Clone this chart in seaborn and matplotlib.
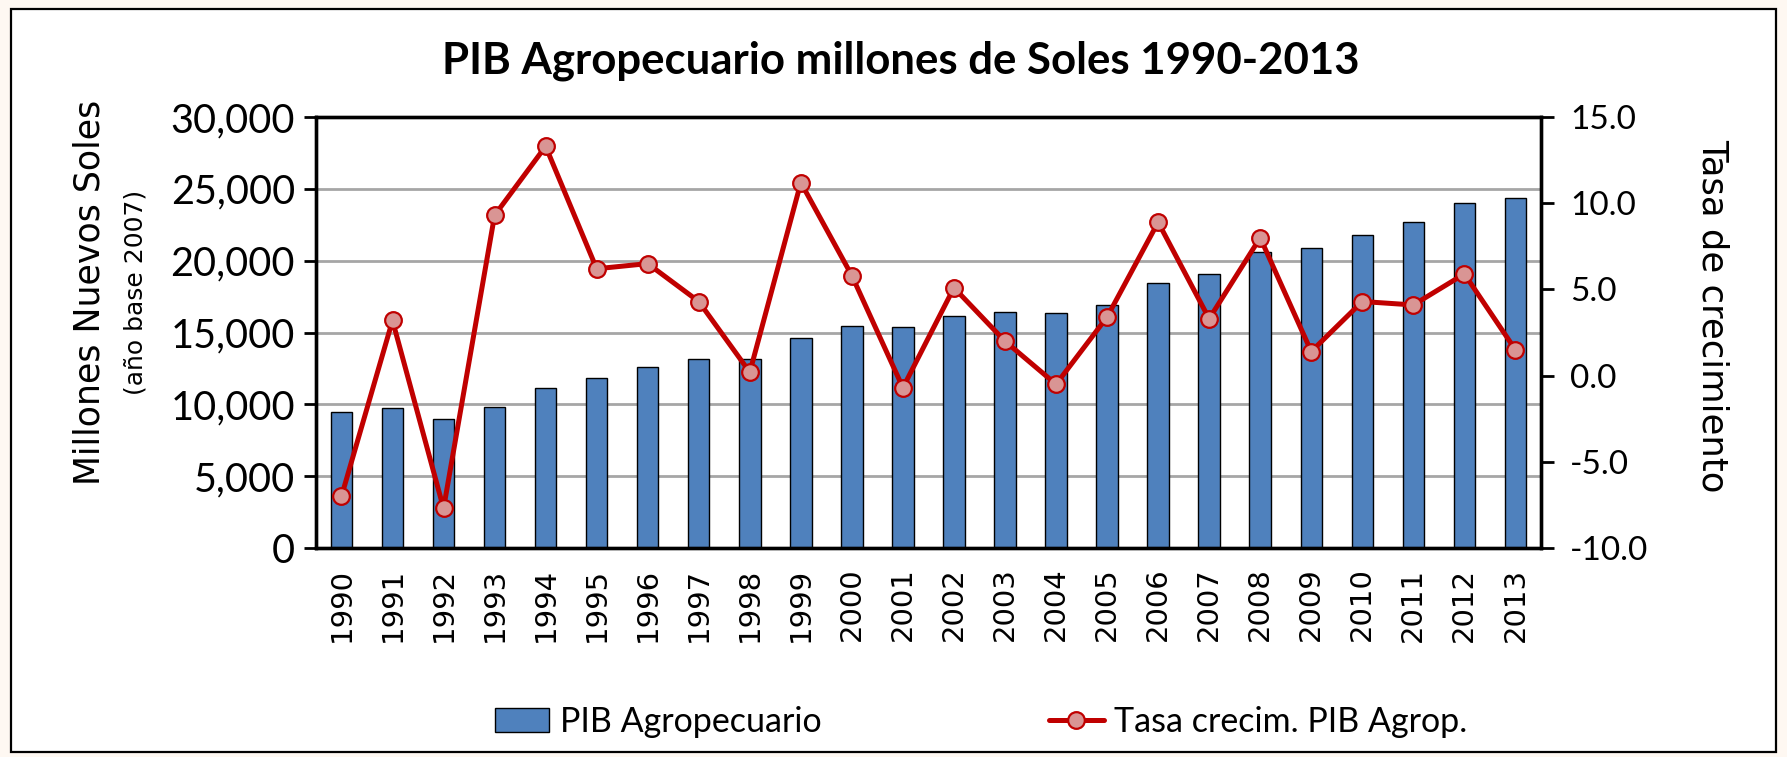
import numpy as np
import pandas as pd
import matplotlib
matplotlib.use("Agg")
import matplotlib.pyplot as plt
import seaborn as sns
from matplotlib.patches import Rectangle
from matplotlib.ticker import FuncFormatter, MultipleLocator
from matplotlib.font_manager import FontProperties

years = [str(y) for y in range(1990, 2014)]
pib = [9470, 9750, 8980, 9840, 11130, 11830, 12620, 13150, 13170, 14630,
       15490, 15390, 16160, 16460, 16370, 16950, 18460, 19060, 20600, 20870,
       21770, 22670, 24000, 24330]
tasa = [-7.0, 3.2, -7.7, 9.3, 13.3, 6.2, 6.5, 4.3, 0.2, 11.2, 5.8, -0.7,
        5.1, 2.0, -0.5, 3.4, 8.9, 3.3, 8.0, 1.4, 4.3, 4.1, 5.9, 1.5]

title = "PIB Agropecuario millones de Soles 1990-2013"
ylabel_left = "Millones Nuevos Soles"
ylabel_sub = "(año base 2007)"
ylabel_right = "Tasa de crecimiento"
label_bar = "PIB Agropecuario"
label_line = "Tasa crecim. PIB Agrop."

df = pd.DataFrame({"year": years, "pib": pib, "tasa": tasa})

sns.set_style("white")
plt.rcParams["font.family"] = ["Lato", "DejaVu Sans"]
plt.rcParams["text.color"] = "black"
plt.rcParams["xtick.color"] = "black"
plt.rcParams["ytick.color"] = "black"
plt.rcParams["axes.labelcolor"] = "black"

dv = lambda size: FontProperties(family="DejaVu Sans", size=size)

fig = plt.figure(figsize=(17.87, 7.57), dpi=100, facecolor="#FEF8F2")
fig.patches.append(Rectangle((0.0062, 0.0066), 0.9876, 0.9814, transform=fig.transFigure,
                             facecolor="white", edgecolor="black", linewidth=1.6, zorder=-5))

ax = fig.add_axes([0.1768, 0.276, 0.6855, 0.5694])
ax.set_facecolor("none")
sns.barplot(data=df, x="year", y="pib", ax=ax, color="#4F81BD", width=0.42,
            edgecolor="black", linewidth=1.0, saturation=1, label=label_bar, zorder=2)
ax.set_ylim(0, 30000)
ax.yaxis.set_major_locator(MultipleLocator(5000))
ax.yaxis.set_major_formatter(FuncFormatter(lambda v, p: f"{int(v):,}"))
ax.yaxis.grid(True, color="#A6A6A6", linewidth=2.0, zorder=0)
ax.set_axisbelow(True)
ax.set_xlabel("")
ax.set_ylabel("")
ax.set_xlim(-0.5, len(years) - 0.5)

ax2 = ax.twinx()
sns.pointplot(data=df, x="year", y="tasa", ax=ax2, color="#C00000", markers="o",
              linestyles="-", errorbar=None, linewidth=3.6, markersize=12,
              markerfacecolor="#D99594", markeredgecolor="#C00000",
              markeredgewidth=1.6, label=label_line)
ax2.set_ylim(-10, 15)
ax2.yaxis.set_major_locator(MultipleLocator(5))
ax2.yaxis.set_major_formatter(FuncFormatter(lambda v, p: f"{v:.1f}"))
ax2.set_ylabel("")
ax2.set_xlabel("")
ax2.set_xlim(-0.5, len(years) - 0.5)
if ax2.get_legend() is not None:
    ax2.get_legend().remove()
if ax.get_legend() is not None:
    ax.get_legend().remove()

for a in (ax, ax2):
    for s in a.spines.values():
        s.set_visible(True)
        s.set_color("black")
        s.set_linewidth(2.4)

ax.tick_params(axis="y", which="major", direction="out", length=9, width=2,
               labelsize=28.5, pad=6, left=True, right=False)
ax.tick_params(axis="x", length=0, pad=14)
ax2.tick_params(axis="y", which="major", direction="out", length=9, width=2,
                labelsize=24, pad=12, right=True, left=False)
ax2.tick_params(axis="x", length=0)
ax.set_xticks(range(len(years)))
ax.set_xticklabels(years, rotation=90, fontproperties=dv(21))

fig.text(0.504, 0.92, title, ha="center", va="center", fontsize=31.5, fontweight="bold")
fig.text(0.05, 0.614, ylabel_left, rotation=90, ha="center", va="center",
         fontproperties=dv(25))
fig.text(0.076, 0.614, ylabel_sub, rotation=90, ha="center", va="center",
         fontproperties=dv(18))
fig.text(0.9586, 0.583, ylabel_right, rotation=-90, ha="center", va="center",
         fontproperties=dv(25.5))

h_bar = ax.containers[0]
h_line = ax2.lines[0]
fig.legend([h_bar, h_line], [label_bar, label_line], loc="center",
           bbox_to_anchor=(0.549, 0.046), ncol=2, frameon=False, fontsize=24.5,
           columnspacing=6.7, handlelength=1.6, handletextpad=0.3)

fig.savefig("out.png", dpi=100, facecolor=fig.get_facecolor())
